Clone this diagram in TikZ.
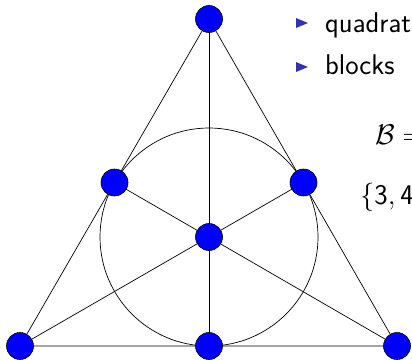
\documentclass[tikz,border=0pt]{standalone}
\usepackage{amssymb}
\definecolor{struct}{RGB}{51,51,178}
\begin{document}
\begin{tikzpicture}[x=1pt,y=-1pt,
  pt/.style={circle,fill=blue,draw=black,line width=0.6pt,minimum size=27pt,inner sep=0pt},
  ln/.style={draw=black,line width=0.7pt},
  txt/.style={anchor=base west,inner sep=0pt,font=\fontsize{28.5}{34}\selectfont\sffamily},
  mth/.style={anchor=base west,inner sep=0pt,font=\fontsize{24.88}{30}\selectfont},
  bul/.style={fill=struct}]
\useasboundingbox (0,0) rectangle (412,359);
\coordinate (A) at (209,19);
\coordinate (B) at (20,346);
\coordinate (C) at (397,346);
\coordinate (AB) at (114.5,182.5);
\coordinate (AC) at (303.5,182.5);
\coordinate (BC) at (209,346);
\coordinate (O) at (209,237);
\draw[ln] (A) -- (B) -- (C) -- cycle;
\draw[ln] (A) -- (BC);
\draw[ln] (B) -- (AC);
\draw[ln] (C) -- (AB);
\draw[ln] (O) circle (109);
\foreach \p in {A,B,C,AB,AC,BC,O} \node[pt] (n\p) at (\p) {};
\fill[bul] (296,18) -- (308,23) -- (296,28) -- cycle;
\fill[bul] (296,62) -- (308,67) -- (296,72) -- cycle;
\node[txt] (t1) at (325,32) {quadratic};
\node[txt] (t2) at (325,74) {blocks};
\node[mth] (t3) at (375,144) {\scalebox{1.145}{$\mathcal{B} = $}};
\node[mth] (t4) at (360,204) {\scalebox{1.145}{$\{\textsf{3},\textsf{4}\}$}};
\end{tikzpicture}
\end{document}
